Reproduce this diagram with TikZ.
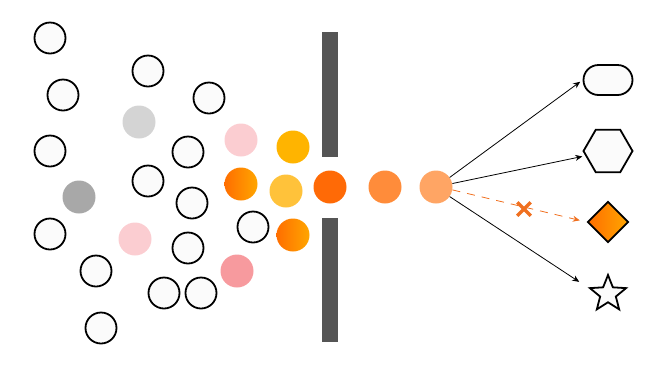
\documentclass[tikz,border=0pt]{standalone}
\usepackage{xcolor}
\definecolor{slitgray}{HTML}{555555}
\definecolor{pgray}{HTML}{D4D4D4}
\definecolor{pdark}{HTML}{A8A8A8}
\definecolor{ppink}{HTML}{FBCDD1}
\definecolor{psalmon}{HTML}{F79A9E}
\definecolor{pamber}{HTML}{FFB400}
\definecolor{pyellow}{HTML}{FFC23A}
\definecolor{porange}{HTML}{FF6A06}
\definecolor{pmid}{HTML}{FF8C3A}
\definecolor{plight}{HTML}{FFA564}
\definecolor{gradl}{HTML}{FF6E00}
\definecolor{gradr}{HTML}{FFA600}
\definecolor{failorange}{HTML}{F07020}
\definecolor{blankfill}{HTML}{FBFBFB}
\usetikzlibrary{shapes.geometric,shapes.misc,arrows.meta}

\begin{document}
\begin{tikzpicture}[x=1pt,y=-1pt,
  blank/.style={draw=black, circle, fill=blankfill, line width=1.8pt,
                minimum size=31pt, inner sep=0pt},
  dot/.style={circle, fill=#1, minimum size=33pt, inner sep=0pt},
  gdot/.style={circle, left color=gradl, right color=gradr,
               minimum size=33pt, inner sep=0pt},
  bar/.style={fill=slitgray, minimum width=16pt, inner sep=0pt},
  outshape/.style={draw=black, line width=1.8pt, fill=blankfill, inner sep=0pt},
  ray/.style={draw=black, line width=0.8pt, -{Stealth[length=7pt,width=6pt]}}
]
\useasboundingbox (0,0) rectangle (665,368);

%% empty particles
\foreach \x/\y [count=\i] in {50/38, 63/95, 148/71, 209/98, 50/151, 188/152,
    148/181, 192/203, 50/234, 253/227, 188/248, 96/271, 164/293, 201/293, 101/328}
  \node[blank] (b\i) at (\x,\y) {};

%% coloured particles
\node[dot=pgray]   (c1) at (139,122) {};
\node[dot=pdark]   (c2) at (79,197)  {};
\node[dot=ppink]   (c3) at (241,140) {};
\node[dot=ppink]   (c4) at (135,239) {};
\node[dot=psalmon] (c5) at (237,271) {};
\node[gdot]        (c6) at (241,184) {};
\node[dot=pamber]  (c7) at (293,147) {};
\node[dot=pyellow] (c8) at (286,191) {};
\node[gdot]        (c9) at (293,235) {};

%% slit
\node[bar, minimum height=125pt] (topbar) at (330,94.5)  {};
\node[bar, minimum height=124pt] (botbar) at (330,280)   {};

%% passing particles
\node[dot=porange] (p1)  at (330,187) {};
\node[dot=pmid]    (p2)  at (385,187) {};
\node[dot=plight]  (src) at (436,187) {};

%% output shapes
\node[outshape, rounded rectangle, minimum width=49pt, minimum height=30pt] (term) at (608,80) {};
\node[outshape, regular polygon, regular polygon sides=6, minimum size=49pt] (hex) at (608,151) {};
\node[draw=black, line width=1.8pt, diamond, left color=gradl, right color=gradr,
      minimum size=41pt, inner sep=0pt] (dia) at (608,222) {};
\node[outshape, star, star points=5, star point ratio=2.3, minimum size=38pt] (star) at (608,294) {};

\draw[ray, shorten >=3pt] (src.35) -- (term.west);
\draw[ray, shorten >=3pt] (src.12) -- (hex.192);
\draw[draw=failorange, line width=0.8pt, dash pattern=on 8pt off 7pt,
      -{Stealth[length=7pt,width=6pt]}, shorten >=7pt] (src.-10) -- (dia.west);
\draw[ray, shorten >=10pt] (src.-35) -- (star.outer point 2);

\node[cross out, draw=failorange, line width=3.5pt, minimum size=10pt, inner sep=0pt] (xmark) at (524,209) {};

\end{tikzpicture}
\end{document}
